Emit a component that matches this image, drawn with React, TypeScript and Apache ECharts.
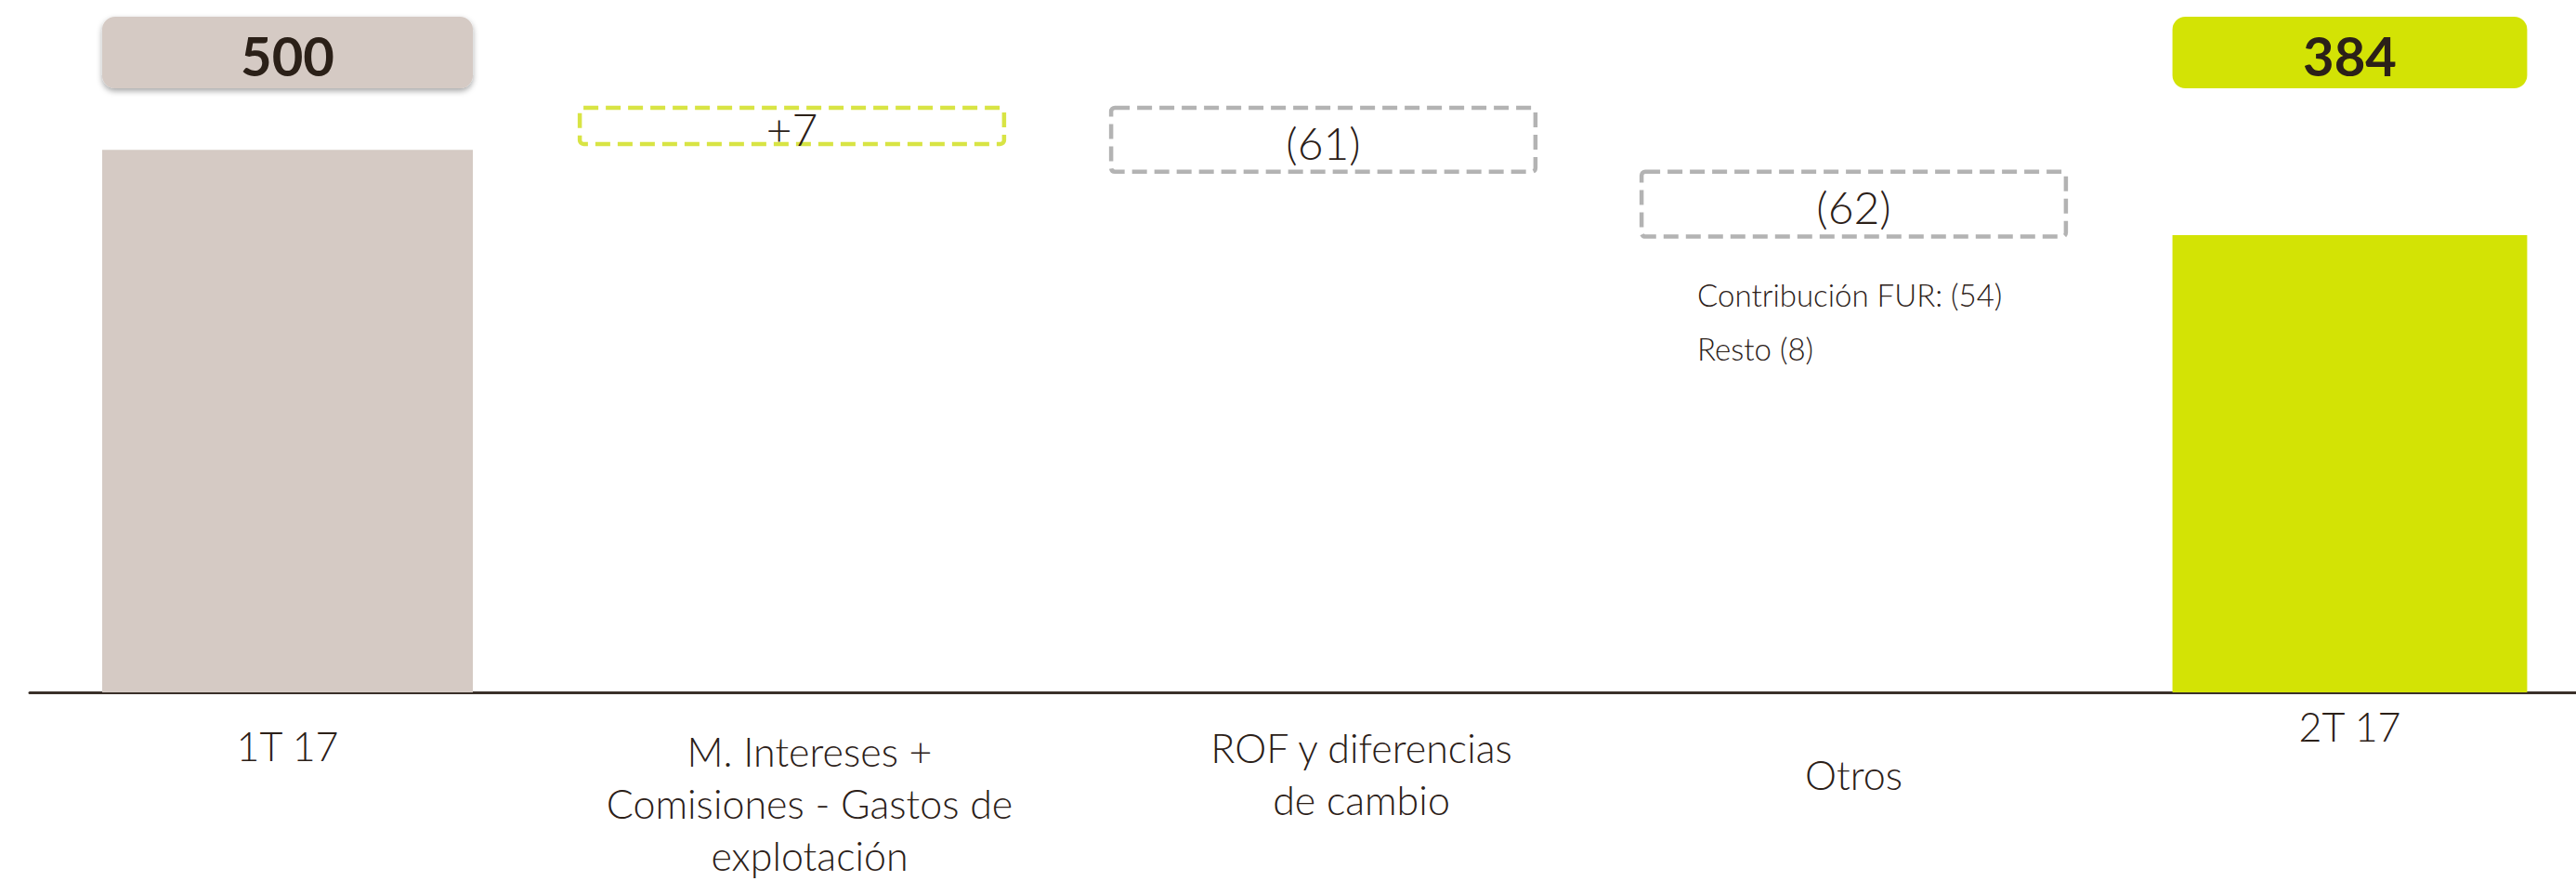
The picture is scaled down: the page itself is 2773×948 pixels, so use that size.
import React, { useEffect, useRef } from 'react';
import * as echarts from 'echarts';

// ---- data ----
const categories = [
  '1T 17',
  'M. Intereses +\nComisiones - Gastos de\nexplotación',
  'ROF y diferencias\nde cambio',
  'Otros',
  '2T 17',
];
const periodTotals: (number | null)[] = [500, null, null, null, 384];
const changes: (number | null)[] = [null, 7, -61, -62, null];
const otrosBreakdownNames = ['Contribución FUR:', 'Resto'];
const otrosBreakdownValues = [-54, -8];
const otrosIndex = 3;

// ---- styles ----
const TEXT = '#2b2018';
const TOTAL_STYLE = [
  { color: '#d5cac4', widthRatio: 0.719, shadow: true },
  null,
  null,
  null,
  { color: '#d3e305', widthRatio: 0.688, shadow: false },
];
const CHANGE_DX = [0, -12, 5, 21, 0];
const LABEL_PAD_TOP = [21, 27, 23, 52, 0];
const LABEL_PAD_LEFT = [0, 14, 92, 42, 0];
const MIN_BOX_H = 39;

const fmtChange = (v: number) => (v > 0 ? `+${v}` : `(${Math.abs(v)})`);

// waterfall rows built from data
const totalRows: number[][] = [];
periodTotals.forEach((v, i) => {
  if (v != null) totalRows.push([i, v]);
});
const changeRows: number[][] = [];
{
  let level = periodTotals[0] as number;
  changes.forEach((c, i) => {
    if (c == null) return;
    const start = level;
    const end = level + c;
    changeRows.push([i, Math.min(start, end), Math.max(start, end), c]);
    level = end;
  });
}

const option: any = {
  animation: false,
  backgroundColor: '#ffffff',
  grid: { left: 32, top: 19, right: 3, bottom: 201, containLabel: false },
  xAxis: {
    type: 'category',
    data: categories.map((c, i) => ({
      value: c,
      textStyle: { padding: [LABEL_PAD_TOP[i], 0, 0, LABEL_PAD_LEFT[i]] },
    })),
    axisTick: { show: false },
    axisLine: { show: true, onZero: false, lineStyle: { color: '#3a3029', width: 3 } },
    axisLabel: {
      interval: 0,
      margin: 8,
      fontFamily: 'Lato',
      fontWeight: 300,
      fontSize: 43,
      lineHeight: 56,
      color: TEXT,
      align: 'center',
    },
    splitLine: { show: false },
  },
  yAxis: [
    { type: 'value', min: -238, max: 680, show: false },
    { type: 'value', min: -51, max: 593, show: false },
  ],
  series: [
    {
      type: 'custom',
      name: 'Totales',
      yAxisIndex: 0,
      encode: { x: 0, y: 1 },
      data: totalRows,
      renderItem: (params: any, api: any) => {
        const i = api.value(0);
        const v = api.value(1);
        const st = TOTAL_STYLE[i] as any;
        const cs = params.coordSys;
        const band = api.size([1, 0])[0];
        const w = band * st.widthRatio;
        const [cx, top] = api.coord([i, v]);
        const baseY = cs.y + cs.height;
        const boxStyle: any = { fill: st.color };
        if (st.shadow) {
          boxStyle.shadowBlur = 6;
          boxStyle.shadowOffsetY = 3;
          boxStyle.shadowColor = 'rgba(0,0,0,0.35)';
        }
        return {
          type: 'group',
          children: [
            {
              type: 'rect',
              shape: { x: cx - w / 2, y: top, width: w, height: baseY - top },
              style: { fill: st.color },
            },
            {
              type: 'rect',
              shape: { x: cx - w / 2, y: cs.y - 1, width: w, height: 77, r: 14 },
              style: boxStyle,
            },
            {
              type: 'text',
              x: cx,
              y: cs.y + 40,
              style: {
                text: String(v),
                fill: TEXT,
                fontFamily: 'Lato',
                fontWeight: 'bold',
                fontSize: 58,
                align: 'center',
                verticalAlign: 'middle',
                textAlign: 'center',
                textVerticalAlign: 'middle',
              },
            },
          ],
        };
      },
    },
    {
      type: 'custom',
      name: 'Variaciones',
      yAxisIndex: 1,
      encode: { x: 0, y: [1, 2] },
      data: changeRows,
      renderItem: (params: any, api: any) => {
        const i = api.value(0);
        const low = api.value(1);
        const high = api.value(2);
        const v = api.value(3);
        const band = api.size([1, 0])[0];
        const [cx0, yHigh] = api.coord([i, high]);
        const yLow = api.coord([i, low])[1];
        const cx = cx0 + CHANGE_DX[i];
        const w = band * 0.823;
        const h = Math.max(yLow - yHigh, MIN_BOX_H);
        const children: any[] = [
          {
            type: 'rect',
            shape: { x: cx - w / 2, y: yHigh, width: w, height: h, r: 4 },
            style: {
              fill: 'none',
              stroke: v > 0 ? '#d8e444' : '#b3b3b3',
              lineWidth: 4.5,
              lineDash: [16, 8],
            },
          },
          {
            type: 'text',
            x: cx,
            y: yHigh + h / 2 + 3,
            style: {
              text: fmtChange(v),
              fill: TEXT,
              fontFamily: 'Lato',
              fontWeight: 300,
              fontSize: 48,
              align: 'center',
              verticalAlign: 'middle',
              textAlign: 'center',
              textVerticalAlign: 'middle',
            },
          },
        ];
        if (i === otrosIndex) {
          otrosBreakdownNames.forEach((n, k) => {
            children.push({
              type: 'text',
              x: cx - w / 2 + 60,
              y: yHigh + h + 62 + k * 58,
              style: {
                text: `${n} ${fmtChange(otrosBreakdownValues[k])}`,
                fill: TEXT,
                fontFamily: 'Lato',
                fontWeight: 300,
                fontSize: 33,
                align: 'left',
                verticalAlign: 'middle',
                textAlign: 'left',
                textVerticalAlign: 'middle',
              },
            });
          });
        }
        return { type: 'group', children };
      },
    },
  ],
};

export default function App() {
  const ref = useRef<HTMLDivElement>(null);
  useEffect(() => {
    document.body.style.margin = '0';
    const chart = echarts.init(ref.current as HTMLDivElement, null, { renderer: 'svg' });
    chart.setOption(option);
    return () => chart.dispose();
  }, []);
  return (
    <div
      ref={ref}
      style={{ position: 'fixed', left: 0, top: 0, width: 2810, height: 948, background: '#fff' }}
    />
  );
}
